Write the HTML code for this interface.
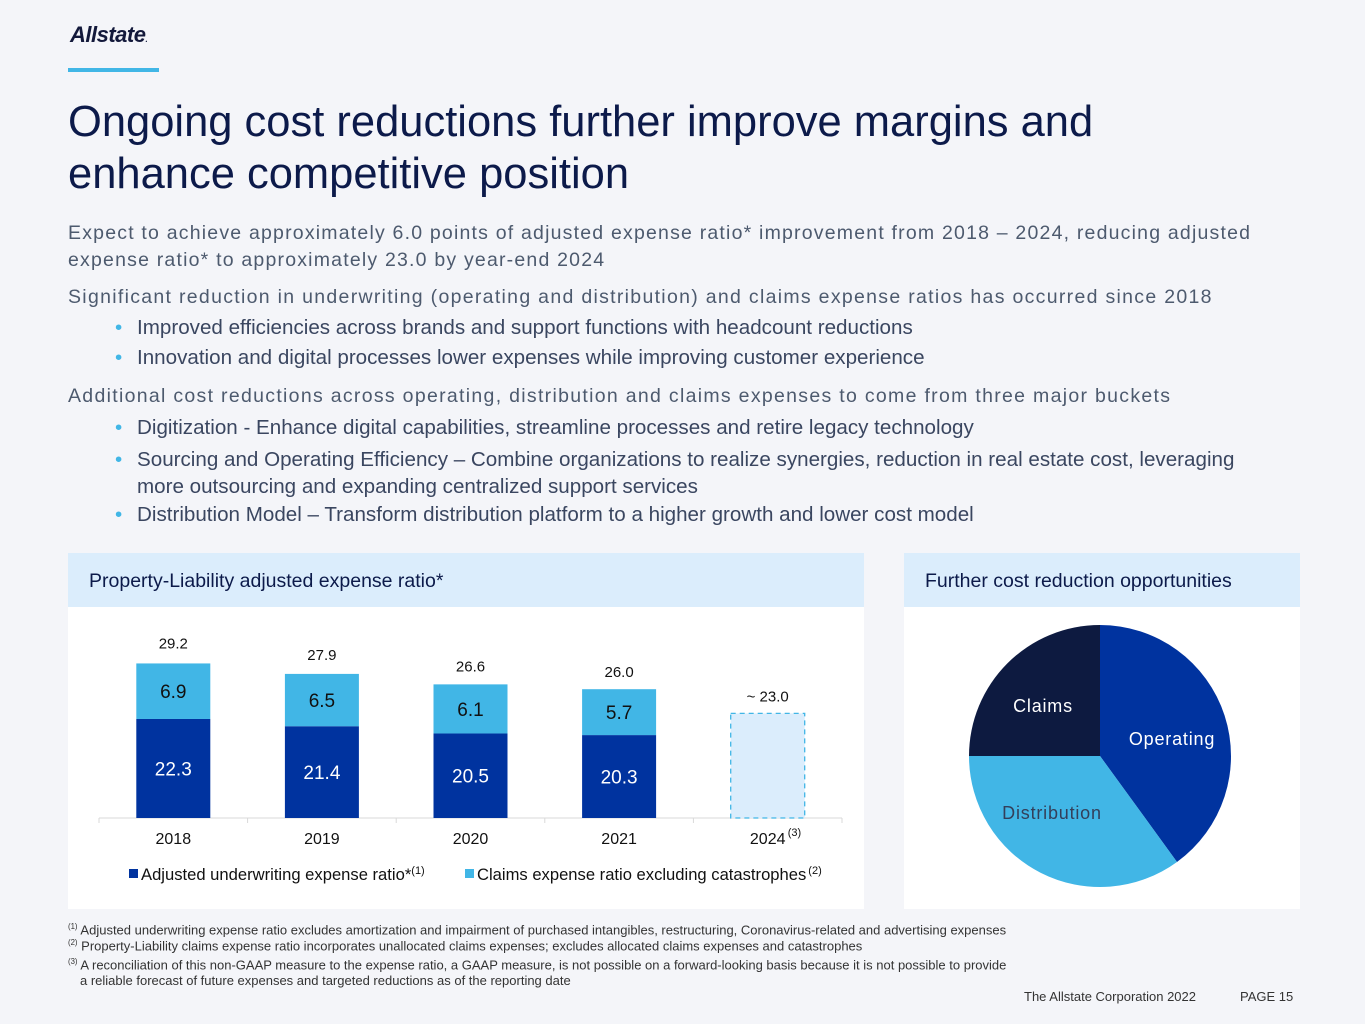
<!DOCTYPE html>
<html><head><meta charset="utf-8"><style>
body{margin:0;width:1365px;height:1024px;background:#f4f5f9;font-family:"Liberation Sans",sans-serif;position:relative;overflow:hidden}
.a{position:absolute;white-space:nowrap}
.p{color:#4d5a6e;font-size:19.5px;letter-spacing:1.3px}
.b{color:#3a4660;font-size:20.6px}
.dot{color:#41b6e6;display:inline-block;width:22px}
.fn{font-size:13px;color:#333;left:68px}
sup{font-size:0.6em}
</style></head><body>
<div class="a" style="left:70px;top:22px;font-size:22px;font-weight:bold;font-style:italic;color:#13193b;letter-spacing:-0.5px">Allstate<span style="font-size:8px">.</span></div>
<div class="a" style="left:68px;top:68px;width:91px;height:4px;background:#41b6e6"></div>
<div class="a" style="left:68px;top:96px;font-size:43.5px;line-height:52px;color:#0c1a4a">Ongoing cost reductions further improve margins and<br>enhance competitive position</div>
<div class="a p" style="left:68px;top:220px;line-height:27px;letter-spacing:1.2px">Expect to achieve approximately 6.0 points of adjusted expense ratio* improvement from 2018 – 2024, reducing adjusted<br>expense ratio* to approximately 23.0 by year-end 2024</div>
<div class="a p" style="left:68px;top:286px">Significant reduction in underwriting (operating and distribution) and claims expense ratios has occurred since 2018</div>
<div class="a b" style="left:115px;top:316px"><span class="dot">•</span>Improved efficiencies across brands and support functions with headcount reductions</div>
<div class="a b" style="left:115px;top:346px"><span class="dot">•</span>Innovation and digital processes lower expenses while improving customer experience</div>
<div class="a p" style="left:68px;top:385px">Additional cost reductions across operating, distribution and claims expenses to come from three major buckets</div>
<div class="a b" style="left:115px;top:416px"><span class="dot">•</span>Digitization - Enhance digital capabilities, streamline processes and retire legacy technology</div>
<div class="a b" style="left:115px;top:446px;line-height:27px"><span class="dot">•</span>Sourcing and Operating Efficiency – Combine organizations to realize synergies, reduction in real estate cost, leveraging<br><span style="margin-left:22px">more outsourcing and expanding centralized support services</span></div>
<div class="a b" style="left:115px;top:503px"><span class="dot">•</span>Distribution Model – Transform distribution platform to a higher growth and lower cost model</div>

<div class="a" style="left:68px;top:553px;width:796px;height:356px;background:#fff"></div>
<div class="a" style="left:68px;top:553px;width:796px;height:54px;background:#dbedfc;color:#0c1a4a;font-size:19.5px;line-height:56px;text-indent:21px">Property-Liability adjusted expense ratio*</div>
<div class="a" style="left:904px;top:553px;width:396px;height:356px;background:#fff"></div>
<div class="a" style="left:904px;top:553px;width:396px;height:54px;background:#dbedfc;color:#0c1a4a;font-size:19.5px;line-height:56px;text-indent:21px">Further cost reduction opportunities</div>

<svg class="a" style="left:0;top:0" width="1365" height="1024" font-family="Liberation Sans, sans-serif">
<g id="bars"></g><g id="pie"></g>
<g font-size="16.6" fill="#111">
<rect x="129" y="869" width="9" height="9" fill="#00339f"/><text x="141" y="880">Adjusted underwriting expense ratio*<tspan font-size="11" dy="-6">(1)</tspan></text>
<rect x="465" y="869" width="9" height="9" fill="#41b6e6"/><text x="477" y="880">Claims expense ratio excluding catastrophes<tspan font-size="11" dy="-6" dx="2">(2)</tspan></text>
</g>
</svg>

<div class="a fn" style="top:922px"><sup>(1)</sup> Adjusted underwriting expense ratio excludes amortization and impairment of purchased intangibles, restructuring, Coronavirus-related and advertising expenses</div>
<div class="a fn" style="top:938px"><sup>(2)</sup> Property-Liability claims expense ratio incorporates unallocated claims expenses; excludes allocated claims expenses and catastrophes</div>
<div class="a fn" style="top:954px;line-height:16px"><sup>(3)</sup> A reconciliation of this non-GAAP measure to the expense ratio, a GAAP measure, is not possible on a forward-looking basis because it is not possible to provide<br><span style="margin-left:12px">a reliable forecast of future expenses and targeted reductions as of the reporting date</span></div>
<div class="a" style="left:1024px;top:989px;font-size:13px;color:#333">The Allstate Corporation 2022</div>
<div class="a" style="left:1240px;top:989px;font-size:13px;color:#333">PAGE 15</div>

<script>
const categories=["2018","2019","2020","2021","2024"];
const underwriting=[22.3,21.4,20.5,20.3,null];
const claims=[6.9,6.5,6.1,5.7,null];
const totals=["29.2","27.9","26.6","26.0","~ 23.0"];
const target2024=23.0;
const pieLabels=["Operating","Distribution","Claims"];
const pieValues=[40,35,25];
const NS="http://www.w3.org/2000/svg";
const base=818,vmin=10,ppu=8.05,x0=99,band=148.6,bw=74;
const y=v=>base-(v-vmin)*ppu;
const xc=i=>x0+band*(i+0.5);
function mk(tag,at,parent){const e=document.createElementNS(NS,tag);for(const k in at)e.setAttribute(k,at[k]);parent.appendChild(e);return e;}
const g=document.getElementById('bars');
const ax=mk('line',{x1:x0,x2:x0+band*5,y1:base,y2:base,stroke:'#d9d9d9'},g);


for(let i=0;i<=5;i++){const t=mk('line',{x1:x0+band*i,x2:x0+band*i,y1:base,y2:base+5,stroke:'#d9d9d9'},g);

}
categories.forEach((c,i)=>{
  const cx=xc(i);
  let topY;
  if(underwriting[i]!=null){
    const yu=y(underwriting[i]),yt=y(underwriting[i]+claims[i]);topY=yt;
    const r1=mk('rect',{x:cx-bw/2,y:yu,width:bw,height:base-yu,fill:'#00339f'},g);
    
    
    const r2=mk('rect',{x:cx-bw/2,y:yt,width:bw,height:yu-yt,fill:'#41b6e6'},g);
    
    
    const l1=mk('text',{x:cx,y:(yu+base)/2+7,'text-anchor':'middle','font-size':19,fill:'#fff'},g);l1.textContent=underwriting[i].toFixed(1);
    
    
    const l2=mk('text',{x:cx,y:(yt+yu)/2+7,'text-anchor':'middle','font-size':19,fill:'#111'},g);l2.textContent=claims[i].toFixed(1);
    
    
  } else {
    topY=y(target2024);
    const r=mk('rect',{x:cx-bw/2,y:topY,width:bw,height:base-topY,fill:'#dbedfc',stroke:'#41b6e6','stroke-dasharray':'5,4','stroke-width':1.3},g);
    
    
  }
  const tl=mk('text',{x:cx,y:topY-12-(i<4?(3-i)*1:0),'text-anchor':'middle','font-size':15,fill:'#111'},g);tl.textContent=totals[i];
  
  
  const xl=mk('text',{x:cx,y:844,'text-anchor':'middle','font-size':16,fill:'#111'},g);xl.textContent=c;
  
  
  if(c==="2024"){const s=mk('text',{x:cx+20,y:836,'font-size':11,fill:'#111'},g);s.textContent='(3)';
  
  }
});
const pg=document.getElementById('pie');
const pcx=1100,pcy=756,pr=131,cols=['#00339f','#41b6e6','#0d1a40'];
const tot=pieValues.reduce((a,b)=>a+b,0);let a0=0;
const lpos=[[1172,745],[1052,819],[1043,712]];
pieValues.forEach((v,i)=>{
  const a1=a0+v/tot*2*Math.PI;
  const p=(a)=>[pcx+pr*Math.sin(a),pcy-pr*Math.cos(a)];
  const [x1,y1]=p(a0),[x2,y2]=p(a1);
  const s=mk('path',{d:`M${pcx},${pcy}L${x1},${y1}A${pr},${pr} 0 ${a1-a0>Math.PI?1:0} 1 ${x2},${y2}Z`,fill:cols[i]},pg);
  
  
  const t=mk('text',{x:lpos[i][0],y:lpos[i][1],'text-anchor':'middle','font-size':18,'letter-spacing':0.8,fill:i==1?'#333f5a':'#fff'},pg);t.textContent=pieLabels[i];
  
  
  a0=a1;
});
</script>
</body></html>
